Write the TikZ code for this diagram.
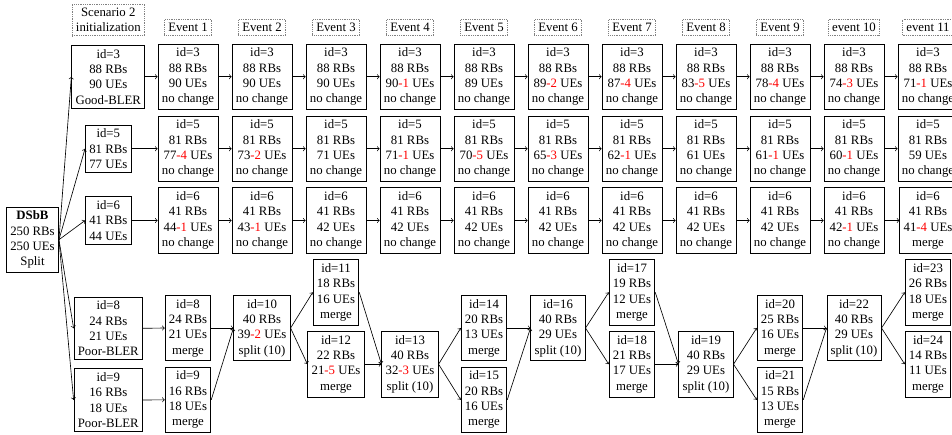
\documentclass[tikz,border=0pt]{standalone}
\usepackage{fontspec}
\setmainfont{Liberation Serif}
\newcommand\rd[1]{\textcolor{red}{#1}}
\tikzset{
  box/.style={draw, line width=0.6pt, align=center, inner sep=3pt,
    font=\fontsize{10}{12}\selectfont},
  tag/.style={draw=gray, densely dotted, align=center, inner sep=3pt,
    anchor=south, font=\fontsize{10}{12}\selectfont},
  arr/.style={->, line width=0.5pt}
}
\begin{document}
\begin{tikzpicture}[x=0.78125pt, y=-0.78125pt]
\useasboundingbox (0,0) rectangle (952,434);

% column headers
\node[tag] (h0) at (108.3,36) {Scenario 2\\initialization};
\foreach \k/\t in {1/Event 1,2/Event 2,3/Event 3,4/Event 4,5/Event 5,6/Event 6,
                   7/Event 7,8/Event 8,9/Event 9,10/event 10,11/event 11}
  \node[tag] (h\k) at ({188+74*(\k-1)},36) {\t};

% root slice
\node[box] (d) at (32.5,239.7) {\textbf{DSbB}\\250 RBs\\250 UEs\\Split};

% slice id=3
\node[box] (a0) at (108.3,76.7) {id=3\\88 RBs\\90 UEs\\Good-BLER};
\foreach \k/\val [remember=\k as \p (initially 0)] in
  {1/90,2/90,3/90,4/90\rd{-1},5/89,6/89\rd{-2},7/87\rd{-4},8/83\rd{-5},
   9/78\rd{-4},10/74\rd{-3},11/71\rd{-1}} {
  \node[box] (a\k) at ({188+74*(\k-1)},76.7) {id=3\\88 RBs\\\val{} UEs\\no change};
  \draw[arr] (a\p.east) -- (a\k.west);
}

% slice id=5
\node[box] (b0) at (108.3,148.7) {id=5\\81 RBs\\77 UEs};
\foreach \k/\val [remember=\k as \p (initially 0)] in
  {1/77\rd{-4},2/73\rd{-2},3/71,4/71\rd{-1},5/70\rd{-5},6/65\rd{-3},7/62\rd{-1},
   8/61,9/61\rd{-1},10/60\rd{-1},11/59} {
  \node[box] (b\k) at ({188+74*(\k-1)},148.7) {id=5\\81 RBs\\\val{} UEs\\no change};
  \draw[arr] (b\p.east) -- (b\k.west);
}

% slice id=6
\node[box] (c0) at (108.3,220.5) {id=6\\41 RBs\\44 UEs};
\foreach \k/\val [remember=\k as \p (initially 0)] in
  {1/44\rd{-1},2/43\rd{-1},3/42,4/42,5/42,6/42,7/42,8/42,9/42,10/42\rd{-1}} {
  \node[box] (c\k) at ({188+74*(\k-1)},220.5) {id=6\\41 RBs\\\val{} UEs\\no change};
  \draw[arr] (c\p.east) -- (c\k.west);
}
\node[box] (c11) at (928,220.5) {id=6\\41 RBs\\41\rd{-4} UEs\\merge};
\draw[arr] (c10.east) -- (c11.west);

% poor-BLER slices and their merges and splits
\node[box] (s8)  at (108.3,328.3) {id=8\\24 RBs\\21 UEs\\Poor-BLER};
\node[box] (s9)  at (108.3,400)   {id=9\\16 RBs\\18 UEs\\Poor-BLER};
\node[box] (m8)  at (188,328)   {id=8\\24 RBs\\21 UEs\\merge};
\node[box] (m9)  at (188,399.8) {id=9\\16 RBs\\18 UEs\\merge};
\node[box] (m10) at (262,328)   {id=10\\40 RBs\\39\rd{-2} UEs\\split (10)};
\node[box] (m11) at (336,292.3) {id=11\\18 RBs\\16 UEs\\merge};
\node[box] (m12) at (336,364.2) {id=12\\22 RBs\\21\rd{-5} UEs\\merge};
\node[box] (m13) at (410,364.2) {id=13\\40 RBs\\32\rd{-3} UEs\\split (10)};
\node[box] (m14) at (484,328)   {id=14\\20 RBs\\13 UEs\\merge};
\node[box] (m15) at (484,399.8) {id=15\\20 RBs\\16 UEs\\merge};
\node[box] (m16) at (558,328)   {id=16\\40 RBs\\29 UEs\\split (10)};
\node[box] (m17) at (632,292.3) {id=17\\19 RBs\\12 UEs\\merge};
\node[box] (m18) at (632,364.2) {id=18\\21 RBs\\17 UEs\\merge};
\node[box] (m19) at (706,364.2) {id=19\\40 RBs\\29 UEs\\split (10)};
\node[box] (m20) at (780,328)   {id=20\\25 RBs\\16 UEs\\merge};
\node[box] (m21) at (780,399.8) {id=21\\15 RBs\\13 UEs\\merge};
\node[box] (m22) at (854,328)   {id=22\\40 RBs\\29 UEs\\split (10)};
\node[box] (m23) at (928,292.3) {id=23\\26 RBs\\18 UEs\\merge};
\node[box] (m24) at (928,364.2) {id=24\\14 RBs\\11 UEs\\merge};

% root split
\foreach \t in {a0,b0,c0,s8,s9}
  \draw[arr] (d.east) -- (\t.west);

% flow of the lower slices
\foreach \s/\t in {s8/m8,s9/m9,m8/m10,m9/m10,m10/m11,m10/m12,m11/m13,m12/m13,
                   m13/m14,m13/m15,m14/m16,m15/m16,m16/m17,m16/m18,m17/m19,
                   m18/m19,m19/m20,m19/m21,m20/m22,m21/m22,m22/m23,m22/m24}
  \draw[arr] (\s.east) -- (\t.west);
\end{tikzpicture}
\end{document}
